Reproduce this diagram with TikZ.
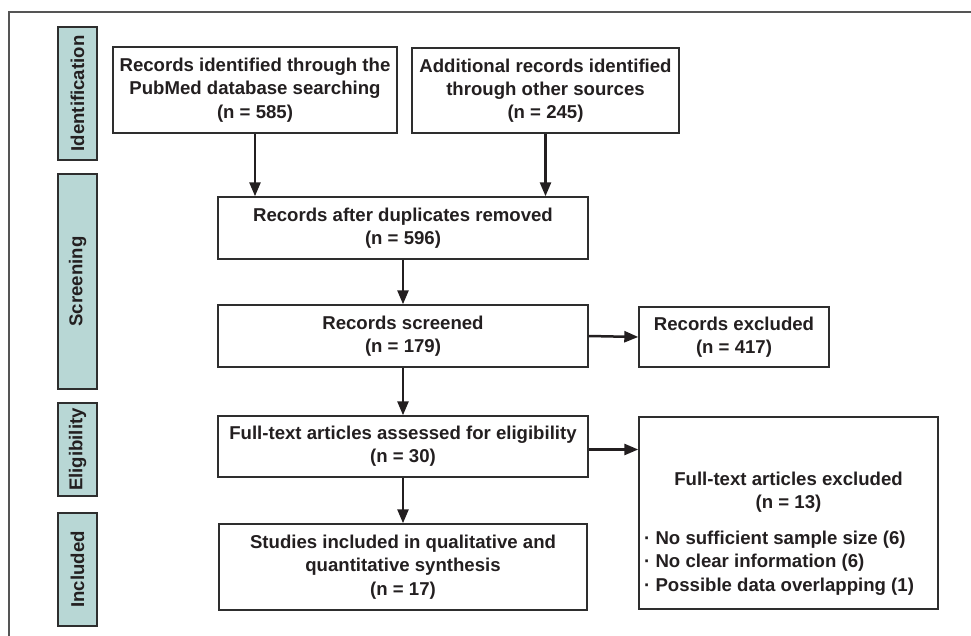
\documentclass[tikz,border=0pt]{standalone}
\usepackage{fontspec}
\setmainfont{Liberation Sans}
\usetikzlibrary{arrows.meta}
\definecolor{ink}{HTML}{231F20}
\definecolor{edge}{HTML}{2E2E2E}
\definecolor{phase}{HTML}{B8D7D5}
\definecolor{frame}{HTML}{555555}
\tikzset{
  flowbox/.style={draw=edge, line width=1.4pt, fill=white, inner sep=0pt, align=center,
    text=ink, font={\bfseries\fontsize{18.6}{23.3}\selectfont}},
  plaintext/.style={inner sep=0pt, text=ink, font={\bfseries\fontsize{18.6}{23.3}\selectfont}},
  phasebox/.style={draw=edge, line width=1.4pt, fill=phase, inner sep=0pt, rotate=90,
    text=ink, font={\bfseries\fontsize{18.6}{23}\selectfont}, minimum height=39pt},
  arr/.style={draw=ink, line width=2.5pt, -{Triangle[length=14pt,width=11pt]}},
}
\begin{document}
\begin{tikzpicture}[x=1pt,y=-1pt]
\useasboundingbox (0,0) rectangle (971,636);
\draw[frame, line width=1.5pt] (975,12) -- (9,12) -- (9,640);
% phase labels
\node[phasebox, minimum width=133pt] (pid) at (77.5,93.5) {Identification};
\node[phasebox, minimum width=215pt] (psc) at (77.5,281.5) {Screening};
\node[phasebox, minimum width=93pt] (pel) at (77.5,449.5) {Eligibility};
\node[phasebox, minimum width=113pt] (pin) at (77.5,569.5) {Included};
% flow boxes
\node[flowbox, minimum width=284pt, minimum height=86pt] (A) at (255,90)
  {Records identified through the\\PubMed database searching\\(n = 585)};
\node[flowbox, minimum width=267pt, minimum height=85pt] (B) at (545.5,90.5)
  {Additional records identified\\through other sources\\(n = 245)};
\node[flowbox, minimum width=370pt, minimum height=62pt] (C) at (403,228)
  {Records after duplicates removed\\(n = 596)};
\node[flowbox, minimum width=370pt, minimum height=62pt] (D) at (403,336)
  {Records screened\\(n = 179)};
\node[flowbox, minimum width=190pt, minimum height=60pt] (RE) at (734,337)
  {Records excluded\\(n = 417)};
\node[flowbox, minimum width=370pt, minimum height=61pt] (E) at (403,446.5)
  {Full-text articles assessed for eligibility\\(n = 30)};
\node[flowbox, minimum width=299pt, minimum height=192pt] (FE) at (788.5,513) {};
\node[plaintext, align=center] (FEhead) at (788.5,492)
  {Full-text articles excluded\\(n = 13)};
\node[plaintext, align=left, anchor=west] (FElist) at (644,563)
  {· No sufficient sample size (6)\\
   · No clear information (6)\\
   · Possible data overlapping (1)};
\node[flowbox, minimum width=368pt, minimum height=86pt] (F) at (403,567)
  {Studies included in qualitative and\\quantitative synthesis\\(n = 17)};
% connectors
\draw[arr] (A.south) -- (A.south |- C.north);
\draw[arr] (B.south) -- (B.south |- C.north);
\draw[arr] (C.south) -- (D.north);
\draw[arr] (D.east) -- (RE.west);
\draw[arr] (D.south) -- (E.north);
\coordinate (eright) at ([yshift=-3pt]E.east);
\draw[arr] (eright) -- (eright -| FE.west);
\draw[arr] (E.south) -- (F.north);
\end{tikzpicture}
\end{document}
